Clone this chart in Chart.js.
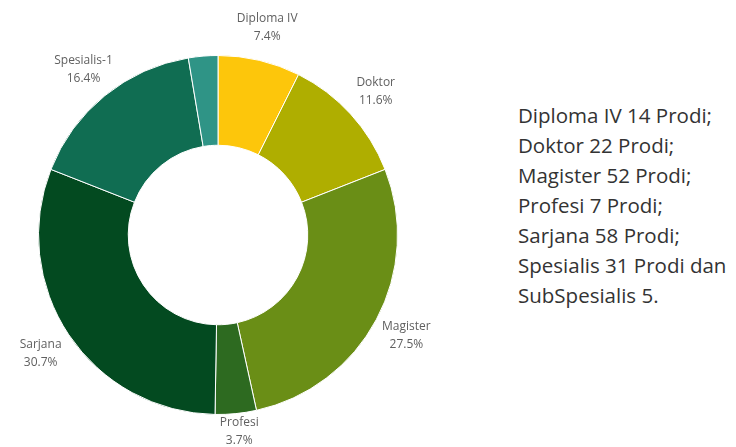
<!DOCTYPE html>
<html>
<head>
<meta charset="utf-8">
<script src="https://cdn.jsdelivr.net/npm/chart.js@4.4.0/dist/chart.umd.min.js"></script>
<style>
    body { margin: 0; background: #fff; width: 736px; height: 447px; overflow: hidden; position: relative; }
    #chart-box { position: absolute; left: 0; top: 0; width: 480px; height: 447px; }
    #note { position: absolute; left: 518px; top: 100px; font-family: "Open Sans", sans-serif; font-size: 20.5px; line-height: 30px; color: #333; white-space: nowrap; }
</style>
</head>
<body>
<div id="chart-box"><canvas id="prodi-chart"></canvas></div>
<div id="note"></div>
<script>
const labels = ["Diploma IV", "Doktor", "Magister", "Profesi", "Sarjana", "Spesialis-1", "SubSpesialis"];
const prodi = [14, 22, 52, 7, 58, 31, 5];
const colors = ["#fdc60b", "#afae00", "#6a8e16", "#2d6a20", "#034a20", "#106d52", "#2f9486"];
const noteLines = [
    "Diploma IV 14 Prodi;",
    "Doktor 22 Prodi;",
    "Magister 52 Prodi;",
    "Profesi 7 Prodi;",
    "Sarjana 58 Prodi;",
    "Spesialis 31 Prodi dan",
    "SubSpesialis 5."
];

document.getElementById("note").innerHTML = noteLines.join("<br>");

const total = prodi.reduce((a, b) => a + b, 0);

// labels outside the ring, name + percent
const outsideLabels = {
    id: "outsideLabels",
    afterDraw(chart) {
        const ctx = chart.ctx;
        const meta = chart.getDatasetMeta(0);
        ctx.save();
        ctx.font = "12px 'Open Sans', sans-serif";
        ctx.fillStyle = "#606060";
        ctx.textAlign = "center";
        ctx.textBaseline = "middle";
        meta.data.forEach((arc, i) => {
            if (labels[i] === "SubSpesialis") return;
            const mid = (arc.startAngle + arc.endAngle) / 2;
            const r = arc.outerRadius + 34;
            const x = arc.x + Math.cos(mid) * r;
            let y = arc.y + Math.sin(mid) * r;
            y = Math.min(y, chart.height - 15);
            ctx.fillText(labels[i], x, y - 9);
            ctx.fillText((prodi[i] / total * 100).toFixed(1) + "%", x, y + 9);
        });
        ctx.restore();
    }
};

new Chart(document.getElementById("prodi-chart").getContext("2d"), {
    type: "doughnut",
    data: {
        labels: labels,
        datasets: [{
            data: prodi,
            backgroundColor: colors,
            borderColor: "#ffffff",
            borderWidth: 1
        }]
    },
    options: {
        responsive: true,
        maintainAspectRatio: false,
        animation: false,
        cutout: "50%",
        layout: { padding: { left: 38, right: 82, top: 55, bottom: 32 } },
        plugins: {
            legend: { display: false },
            tooltip: { enabled: false }
        }
    },
    plugins: [outsideLabels]
});
</script>
</body>
</html>
